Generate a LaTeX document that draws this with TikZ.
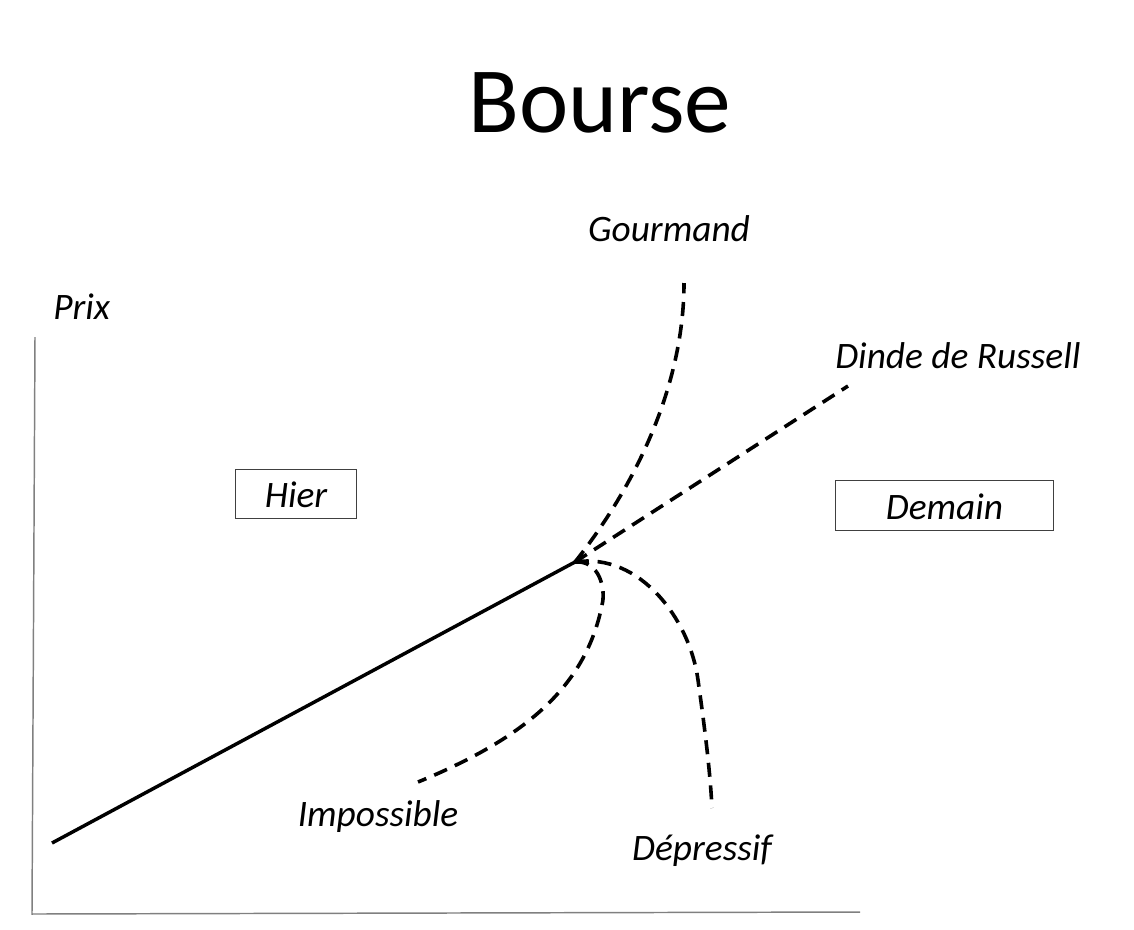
\documentclass[tikz,border=0pt]{standalone}
\usepackage{fontspec}
\setmainfont{Carlito}
\begin{document}
\begin{tikzpicture}[x=0.75pt,y=-0.75pt,
	etiquette/.style={font=\fontsize{28}{32}\selectfont\itshape, inner sep=0pt},
	boite/.style={draw=black!75, line width=.7pt, minimum height=37pt, inner sep=0pt},
	tiret/.style={line width=2.7pt, dash pattern=on 10.5pt off 6.5pt},
	axe/.style={draw=gray, line width=1.1pt}]
\useasboundingbox (0,0) rectangle (1134,929);
% titre
\node[font=\fontsize{70}{80}\selectfont, anchor=base, inner sep=0pt] (titre) at (600,132) {Bourse};
% axes
\coordinate (haut) at (35,337);
\coordinate (origine) at (32,914);
\coordinate (droite) at (860,912);
\draw[axe] (haut) -- (origine) -- (droite);
\node[etiquette, anchor=base west] (prix) at (53,319) {Prix};
% boites
\node[boite, minimum width=91pt] (hier) at (296,494) {};
\node[etiquette, anchor=base] (hiertxt) at (296,507) {Hier};
\node[boite, minimum width=163pt] (demain) at (944.5,505.5) {};
\node[etiquette, anchor=base] (demaintxt) at (944.5,519) {Demain};
% courbe passee
\coordinate (depart) at (52,843);
\coordinate (jonction) at (575,562);
\draw[line width=2.6pt] (depart) -- (jonction);
% scenarios
\coordinate (g) at (684,283);
\coordinate (r) at (848,386);
\coordinate (i) at (418,782);
\coordinate (d) at (712,808);
\draw[tiret] (jonction) .. controls (640,480) and (684,380) .. (g);
\draw[tiret] (jonction) -- (r);
\draw[tiret] (jonction) .. controls (600,560) and (606,590) .. (602,605)
	.. controls (585,690) and (520,740) .. (i);
\draw[tiret] (jonction) .. controls (640,552) and (690,620) .. (698,680)
	.. controls (705,730) and (710,770) .. (d);
\node[etiquette, anchor=base] (gourmand) at (669,241) {Gourmand};
\node[etiquette, anchor=base west] (dinde) at (835,368) {Dinde de Russell};
\node[etiquette, anchor=base] (impossible) at (378,826) {Impossible};
\node[etiquette, anchor=base] (depressif) at (702,860) {Dépressif};
\end{tikzpicture}
\end{document}
